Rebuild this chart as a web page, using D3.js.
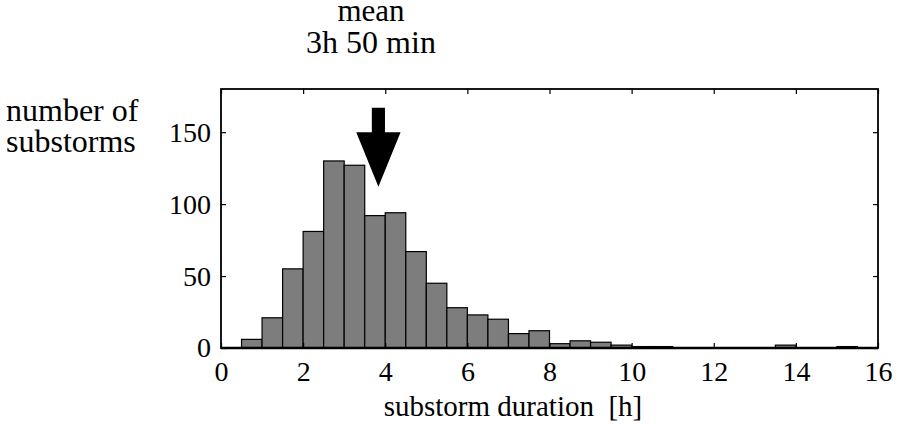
<!DOCTYPE html>
<head>
  <meta charset="utf-8">
  <script src="https://d3js.org/d3.v7.min.js"></script>
  <style>
    body { margin:0; background:white; }
    svg { display:block; }
    text { font-family: "Liberation Serif", "Times New Roman", serif; fill: black; }
  </style>
</head>
<body>
<script>
  // histogram bins (left edge, hours) and counts
  var binStart = [0.5, 1, 1.5, 2, 2.5, 3, 3.5, 4, 4.5, 5, 5.5, 6, 6.5, 7, 7.5,
                  8, 8.5, 9, 9.5, 10, 10.5, 11, 11.5, 12, 12.5, 13, 13.5, 14, 14.5, 15];
  var counts   = [6, 21, 55, 81, 130, 127, 92, 94, 67, 45, 28, 23, 20, 10, 12,
                  3, 5, 4, 2, 1, 1, 0, 0, 0, 0, 0, 2, 0, 0, 1];
  var binWidth = 0.5;
  var xTicks = [0, 2, 4, 6, 8, 10, 12, 14, 16];
  var yTicks = [0, 50, 100, 150];
  var meanHours = 3 + 50 / 60;

  var width = 898, height = 442;
  var margin = {top: 89, right: 20, bottom: 94, left: 221};

  var svg = d3.select("body").append("svg")
    .attr("width", width)
    .attr("height", height);

  var x = d3.scaleLinear().domain([0, 16]).range([margin.left, width - margin.right]);
  var y = d3.scaleLinear().domain([0, 180]).range([height - margin.bottom, margin.top]);

  var bins = binStart.map(function(d, i) { return {x0: d, x1: d + binWidth, n: counts[i]}; });

  svg.selectAll("rect.bar")
    .data(bins.filter(function(d) { return d.n > 0; }))
    .enter()
    .append("rect")
    .attr("class", "bar")
    .attr("x", function(d) { return x(d.x0); })
    .attr("width", function(d) { return x(d.x1) - x(d.x0); })
    .attr("y", function(d) { return y(d.n); })
    .attr("height", function(d) { return y(0) - y(d.n); })
    .attr("fill", "#7d7d7d")
    .attr("stroke", "black")
    .attr("stroke-width", 1.2);

  // mean arrow, in data units
  var shaftW = 0.16, headW = 0.54;
  var arrow = [
    [meanHours - shaftW, 167], [meanHours + shaftW, 167], [meanHours + shaftW, 150],
    [meanHours + headW, 150], [meanHours, 112], [meanHours - headW, 150],
    [meanHours - shaftW, 150]
  ];
  svg.append("path")
    .attr("d", d3.line().x(function(d) { return x(d[0]); }).y(function(d) { return y(d[1]); })(arrow) + "Z")
    .attr("fill", "black");

  // frame and axes, ticks pointing inward
  svg.append("g")
    .attr("transform", "translate(0," + y(0) + ")")
    .call(d3.axisBottom(x).tickValues(xTicks).tickSize(-5).tickPadding(13))
    .call(function(g) { g.select(".domain").remove(); });
  svg.append("g")
    .attr("transform", "translate(0," + y(180) + ")")
    .call(d3.axisTop(x).tickValues(xTicks).tickSize(-5).tickFormat(""))
    .call(function(g) { g.select(".domain").remove(); });
  svg.append("g")
    .attr("transform", "translate(" + x(0) + ",0)")
    .call(d3.axisLeft(y).tickValues(yTicks).tickSize(-5).tickPadding(10))
    .call(function(g) { g.select(".domain").remove(); });
  svg.append("g")
    .attr("transform", "translate(" + x(16) + ",0)")
    .call(d3.axisRight(y).tickValues(yTicks).tickSize(-5).tickFormat(""))
    .call(function(g) { g.select(".domain").remove(); });

  svg.selectAll(".tick line").attr("stroke", "black").attr("stroke-width", 1.2);
  svg.selectAll(".tick text")
    .style("font-family", "Liberation Serif, serif")
    .style("font-size", "28px")
    .attr("fill", "black");

  svg.append("rect")
    .attr("x", x(0)).attr("y", y(180))
    .attr("width", x(16) - x(0)).attr("height", y(0) - y(180))
    .attr("fill", "none").attr("stroke", "black").attr("stroke-width", 1.8);
  svg.append("line")
    .attr("x1", x(0)).attr("x2", x(16)).attr("y1", y(0)).attr("y2", y(0))
    .attr("stroke", "black").attr("stroke-width", 2.4);

  // labels
  svg.append("text").attr("x", 371).attr("y", 21).attr("text-anchor", "middle")
    .style("font-size", "31px").text("mean");
  svg.append("text").attr("x", 371).attr("y", 53).attr("text-anchor", "middle")
    .style("font-size", "32px").text("3h 50 min");

  svg.append("text").attr("x", 6).attr("y", 121)
    .style("font-size", "32px").text("number of");
  svg.append("text").attr("x", 6).attr("y", 152)
    .style("font-size", "32px").text("substorms");

  svg.append("text").attr("x", 513).attr("y", 416).attr("text-anchor", "middle")
    .style("font-size", "29px").attr("xml:space", "preserve").text("substorm duration  [h]");
</script>
</body>
